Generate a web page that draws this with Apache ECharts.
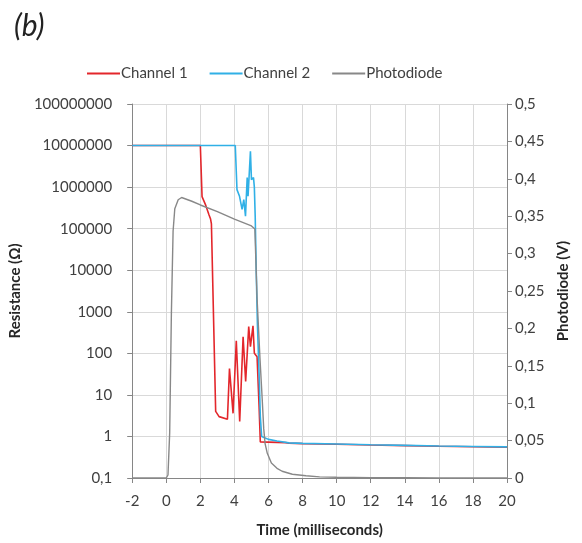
<!DOCTYPE html>
<html>
<head>
<meta charset="utf-8">
<script src="https://cdn.jsdelivr.net/npm/echarts@6/dist/echarts.min.js"></script>
<style>
html,body{margin:0;padding:0;background:#fff;}
#c{width:582px;height:543px;}
</style>
</head>
<body>
<div id="c"></div>
<script>
// ---- data ----
const ch1Time = [-2, 2.0, 2.1, 2.3, 2.5, 2.6, 2.65, 2.9, 3.1, 3.59, 3.71, 3.92, 4.11, 4.31, 4.51, 4.66, 4.84, 4.94, 5.09, 5.17, 5.33, 5.45, 5.52, 6, 7, 7.2, 8, 10, 12, 14, 16, 18, 20];
const ch1Res  = [1e7, 1e7, 5.9e5, 3.8e5, 2.2e5, 1.7e5, 1.3e5, 4, 3, 2.6, 43, 3.6, 200, 2.3, 250, 21, 440, 145, 460, 100, 83, 5, 0.74, 0.73, 0.71, 0.69, 0.67, 0.65, 0.62, 0.6, 0.58, 0.565, 0.55];

const ch2Time = [-2, 4.05, 4.15, 4.3, 4.45, 4.55, 4.65, 4.75, 4.8, 4.94, 5.0, 5.12, 5.17, 5.22, 5.28, 5.35, 5.45, 5.52, 5.6, 6, 6.5, 7.2, 8, 10, 12, 14, 16, 18, 20];
const ch2Res  = [1e7, 1e7, 8.7e5, 6e5, 2.9e5, 5e5, 2e5, 1.7e6, 6e5, 7.3e6, 1.5e6, 1.7e6, 1e6, 2e5, 1e4, 500, 30, 3, 1.0, 0.85, 0.78, 0.7, 0.68, 0.66, 0.63, 0.61, 0.59, 0.575, 0.56];

const pdTime = [-2, 0, 0.1, 0.2, 0.3, 0.4, 0.5, 0.7, 0.9, 1.5, 2, 3, 4, 5, 5.2, 5.33, 5.5, 5.63, 5.72, 5.8, 5.93, 6.17, 6.5, 6.8, 7.4, 8.2, 9, 10, 12, 14, 16, 18, 20];
const pdVolt = [0, 0, 0.004, 0.06, 0.22, 0.33, 0.36, 0.372, 0.375, 0.37, 0.365, 0.356, 0.346, 0.337, 0.333, 0.24, 0.16, 0.106, 0.066, 0.046, 0.033, 0.02, 0.013, 0.009, 0.005, 0.003, 0.0015, 0.001, 0.0005, 0.0003, 0.0002, 0.0001, 0];

const seriesNames = ['Channel 1', 'Channel 2', 'Photodiode'];
const xTicks = { min: -2, max: 20, step: 2 };
const rightTicks = { min: 0, max: 0.5, step: 0.05 };
const leftTicks = { min: 0.1, max: 1e8 };

const pairs = (xs, ys) => xs.map((x, i) => [x, ys[i]]);
const font = 'Lato, "Open Sans", sans-serif';
const axisGray = '#868686';
const labelColor = '#404040';

const chart = echarts.init(document.getElementById('c'), null, {renderer: 'canvas'});
chart.setOption({
  animation: false,
  backgroundColor: '#fff',
  title: {
    text: '(b)', left: 9, top: 6,
    textStyle: {fontFamily: font, fontStyle: 'italic', fontWeight: 'normal', fontSize: 30, color: '#222'}
  },
  legend: {
    left: 82, top: 61,
    itemWidth: 33, itemHeight: 2, itemGap: 22, icon: 'rect',
    textStyle: {fontFamily: font, fontSize: 15, color: labelColor, padding: [0, 0, 0, -4]},
    data: seriesNames
  },
  grid: {left: 132, right: 75, top: 104, bottom: 63, containLabel: false},
  xAxis: {
    type: 'value', min: xTicks.min, max: xTicks.max, interval: xTicks.step,
    name: 'Time (milliseconds)', nameLocation: 'middle', nameGap: 45,
    nameTextStyle: {fontFamily: font, fontSize: 15, fontWeight: 'bold', color: '#262626'},
    axisLine: {onZero: false, lineStyle: {color: axisGray}},
    axisTick: {show: true, length: 5, lineStyle: {color: axisGray}},
    axisLabel: {fontFamily: font, fontSize: 15, color: labelColor, margin: 16},
    splitLine: {show: true, lineStyle: {color: '#d9d9d9'}}
  },
  yAxis: [{
    type: 'log', logBase: 10, min: leftTicks.min, max: leftTicks.max, splitNumber: 9,
    name: 'Resistance (Ω)', nameLocation: 'middle', nameGap: 104,
    nameTextStyle: {fontFamily: font, fontSize: 15, fontWeight: 'bold', color: '#262626'},
    axisLine: {show: true, onZero: false, lineStyle: {color: axisGray}},
    axisTick: {show: true, length: 5, lineStyle: {color: axisGray}},
    axisLabel: {
      fontFamily: font, fontSize: 15, color: labelColor, margin: 20,
      formatter: v => v < 1 ? String(+v.toPrecision(3)).replace('.', ',') : String(Math.round(v))
    },
    splitLine: {show: true, lineStyle: {color: '#d9d9d9'}}
  }, {
    type: 'value', min: rightTicks.min, max: rightTicks.max, interval: rightTicks.step, position: 'right',
    name: 'Photodiode (V)', nameLocation: 'middle', nameGap: 34,
    nameTextStyle: {fontFamily: font, fontSize: 15, fontWeight: 'bold', color: '#262626'},
    axisLine: {show: true, onZero: false, lineStyle: {color: axisGray}},
    axisTick: {show: true, length: 5, lineStyle: {color: axisGray}},
    axisLabel: {
      fontFamily: font, fontSize: 15, color: labelColor, margin: 8,
      formatter: v => String(+v.toFixed(2)).replace('.', ',')
    },
    splitLine: {show: false}
  }],
  series: [{
    name: seriesNames[0], type: 'line', yAxisIndex: 0, showSymbol: false, symbol: 'none',
    data: pairs(ch1Time, ch1Res), lineStyle: {color: '#e3262b', width: 1.6}, itemStyle: {color: '#e3262b'}
  }, {
    name: seriesNames[1], type: 'line', yAxisIndex: 0, showSymbol: false, symbol: 'none',
    data: pairs(ch2Time, ch2Res), lineStyle: {color: '#30b0e6', width: 1.6}, itemStyle: {color: '#30b0e6'}
  }, {
    name: seriesNames[2], type: 'line', yAxisIndex: 1, showSymbol: false, symbol: 'none',
    data: pairs(pdTime, pdVolt), lineStyle: {color: '#888888', width: 1.4}, itemStyle: {color: '#888888'}
  }]
});
</script>
</body>
</html>
